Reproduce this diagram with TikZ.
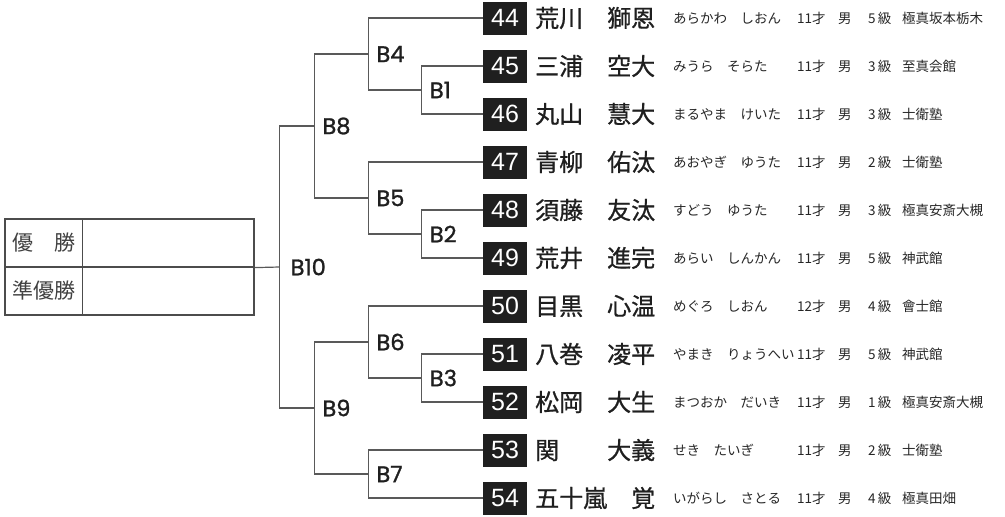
\documentclass[tikz,border=0pt]{standalone}
\usepackage{fontspec}
\usetikzlibrary{positioning}
\newfontfamily\jpfont{Noto Sans CJK JP}
\newfontfamily\namefont{Noto Sans CJK JP}[FakeBold=0.8]
\newfontfamily\bfont{Poppins}[FakeBold=1.2]
\newfontfamily\numfont{Liberation Sans}
\begin{document}
\begin{tikzpicture}[x=1pt,y=-1pt,
	numbox/.style={fill=black!88, text=white, minimum width=44pt, minimum height=33pt, inner sep=0pt, font=\numfont\fontsize{25}{25}\selectfont},
	namet/.style={anchor=west, inner sep=0pt, text=black!88, font=\namefont\fontsize{24}{24}\selectfont},
	info/.style={anchor=west, inner sep=0pt, text=black!85, font=\jpfont\fontsize{13.5}{13.5}\selectfont},
	blabel/.style={inner sep=0pt, text=black!88, font=\bfont\fontsize{22.5}{22.5}\selectfont},
	bline/.style={draw=black!65, line width=1.2pt},
	cell/.style={draw=black!70, line width=1.2pt, minimum height=48pt, inner sep=0pt, text=black!75, font=\jpfont\fontsize{21}{21}\selectfont}]
	\useasboundingbox (0,0) rectangle (1005,517);

	% result table
	\node[cell, minimum width=77.7pt] (c1) at (43.85,243) {\makebox[63pt]{優\hfill 勝}};
	\node[cell, minimum width=171.3pt] (c2) at (168.35,243) {};
	\node[cell, minimum width=77.7pt] (c3) at (43.85,291) {\makebox[63pt]{準優勝}};
	\node[cell, minimum width=171.3pt] (c4) at (168.35,291) {};

	% entries
	\node[numbox] (e44) at (505,18) {44};
	\node[namet] (n44) at (535,18) {\makebox[120pt]{荒川\hfill 獅恩}};
	\node[info] (i44) at (673,18) {\makebox[124pt][l]{あらかわ　しおん}\makebox[41pt][l]{11才}\makebox[30pt][l]{男}\makebox[34pt][l]{5\,級}極真坂本栃木};

	\node[numbox] (e45) at (505,66) {45};
	\node[namet] (n45) at (535,66) {\makebox[120pt]{三浦\hfill 空大}};
	\node[info] (i45) at (673,66) {\makebox[124pt][l]{みうら　そらた}\makebox[41pt][l]{11才}\makebox[30pt][l]{男}\makebox[34pt][l]{3\,級}至真会館};

	\node[numbox] (e46) at (505,114) {46};
	\node[namet] (n46) at (535,114) {\makebox[120pt]{丸山\hfill 慧大}};
	\node[info] (i46) at (673,114) {\makebox[124pt][l]{まるやま　けいた}\makebox[41pt][l]{11才}\makebox[30pt][l]{男}\makebox[34pt][l]{3\,級}士衛塾};

	\node[numbox] (e47) at (505,162) {47};
	\node[namet] (n47) at (535,162) {\makebox[120pt]{青柳\hfill 佑汰}};
	\node[info] (i47) at (673,162) {\makebox[124pt][l]{あおやぎ　ゆうた}\makebox[41pt][l]{11才}\makebox[30pt][l]{男}\makebox[34pt][l]{2\,級}士衛塾};

	\node[numbox] (e48) at (505,210) {48};
	\node[namet] (n48) at (535,210) {\makebox[120pt]{須藤\hfill 友汰}};
	\node[info] (i48) at (673,210) {\makebox[124pt][l]{すどう　ゆうた}\makebox[41pt][l]{11才}\makebox[30pt][l]{男}\makebox[34pt][l]{3\,級}極真安斎大槻};

	\node[numbox] (e49) at (505,258) {49};
	\node[namet] (n49) at (535,258) {\makebox[120pt]{荒井\hfill 進完}};
	\node[info] (i49) at (673,258) {\makebox[124pt][l]{あらい　しんかん}\makebox[41pt][l]{11才}\makebox[30pt][l]{男}\makebox[34pt][l]{5\,級}神武館};

	\node[numbox] (e50) at (505,306) {50};
	\node[namet] (n50) at (535,306) {\makebox[120pt]{目黒\hfill 心温}};
	\node[info] (i50) at (673,306) {\makebox[124pt][l]{めぐろ　しおん}\makebox[41pt][l]{12才}\makebox[30pt][l]{男}\makebox[34pt][l]{4\,級}會士館};

	\node[numbox] (e51) at (505,354) {51};
	\node[namet] (n51) at (535,354) {\makebox[120pt]{八巻\hfill 凌平}};
	\node[info] (i51) at (673,354) {\makebox[124pt][l]{やまき　りょうへい}\makebox[41pt][l]{11才}\makebox[30pt][l]{男}\makebox[34pt][l]{5\,級}神武館};

	\node[numbox] (e52) at (505,402) {52};
	\node[namet] (n52) at (535,402) {\makebox[120pt]{松岡\hfill 大生}};
	\node[info] (i52) at (673,402) {\makebox[124pt][l]{まつおか　だいき}\makebox[41pt][l]{11才}\makebox[30pt][l]{男}\makebox[34pt][l]{1\,級}極真安斎大槻};

	\node[numbox] (e53) at (505,450) {53};
	\node[namet] (n53) at (535,450) {\makebox[120pt]{関\hfill 大義}};
	\node[info] (i53) at (673,450) {\makebox[124pt][l]{せき　たいぎ}\makebox[41pt][l]{11才}\makebox[30pt][l]{男}\makebox[34pt][l]{2\,級}士衛塾};

	\node[numbox] (e54) at (505,498) {54};
	\node[namet] (n54) at (535,498) {\makebox[120pt]{五十嵐\hfill 覚}};
	\node[info] (i54) at (673,498) {\makebox[124pt][l]{いがらし　さとる}\makebox[41pt][l]{11才}\makebox[30pt][l]{男}\makebox[34pt][l]{4\,級}極真田畑};

	% bouts
	\coordinate (b1) at (421.7,90);
	\coordinate (b2) at (421.7,234);
	\coordinate (b3) at (421.7,378);
	\coordinate (b4) at (368.3,54);
	\coordinate (b5) at (368.3,198);
	\coordinate (b6) at (368.3,342);
	\coordinate (b7) at (368.3,474);
	\coordinate (b8) at (314.3,126);
	\coordinate (b9) at (314.3,408);
	\coordinate (b10) at (279.5,267);

	\draw[bline] (e45.west) -| (b1) |- (e46.west);
	\draw[bline] (e48.west) -| (b2) |- (e49.west);
	\draw[bline] (e51.west) -| (b3) |- (e52.west);
	\draw[bline] (e44.west) -| (b4) |- (b1);
	\draw[bline] (e47.west) -| (b5) |- (b2);
	\draw[bline] (e50.west) -| (b6) |- (b3);
	\draw[bline] (e53.west) -| (b7) |- (e54.west);
	\draw[bline] (b4) -| (b8) |- (b5);
	\draw[bline] (b6) -| (b9) |- (b7);
	\draw[bline] (b8) -| (b10) |- (b9);
	\draw[bline] (c2.south east) -- (b10);

	\node[blabel, right=8pt of b1] (l1) {B1};
	\node[blabel, right=8pt of b2] (l2) {B2};
	\node[blabel, right=8pt of b3] (l3) {B3};
	\node[blabel, right=8pt of b4] (l4) {B4};
	\node[blabel, right=8pt of b5] (l5) {B5};
	\node[blabel, right=8pt of b6] (l6) {B6};
	\node[blabel, right=8pt of b7] (l7) {B7};
	\node[blabel, right=8pt of b8] (l8) {B8};
	\node[blabel, right=8pt of b9] (l9) {B9};
	\node[blabel, right=11pt of b10] (l10) {B10};
\end{tikzpicture}
\end{document}
